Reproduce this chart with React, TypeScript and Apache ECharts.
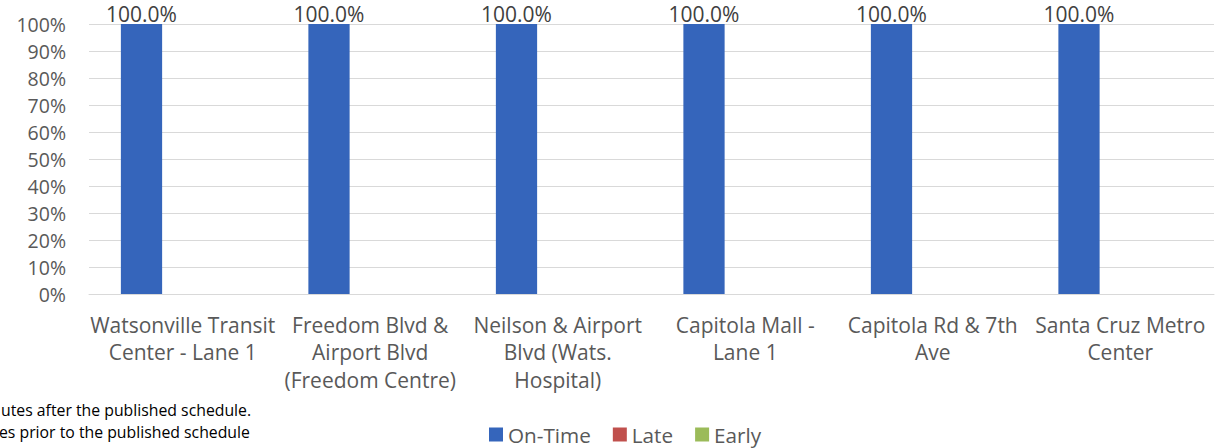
import React, { useEffect, useRef } from "react";
import * as echarts from "echarts";

const categories = [
  "Watsonville Transit\nCenter - Lane 1",
  "Freedom Blvd &\nAirport Blvd\n(Freedom Centre)",
  "Neilson & Airport\nBlvd (Wats.\nHospital)",
  "Capitola Mall -\nLane 1",
  "Capitola Rd & 7th\nAve",
  "Santa Cruz Metro\nCenter",
];
const onTime = [1, 1, 1, 1, 1, 1];
const late = [0, 0, 0, 0, 0, 0];
const early = [0, 0, 0, 0, 0, 0];
const footnotes = ["utes after the published schedule.", "es prior to the published schedule"];

const FONT = "'Open Sans', sans-serif";

export default function App() {
  const ref = useRef<HTMLDivElement>(null);
  useEffect(() => {
    if (!ref.current) return;
    const chart = echarts.init(ref.current, null, { renderer: "svg" });
    chart.setOption({
      animation: false,
      textStyle: { fontFamily: FONT },
      grid: { left: 89, right: 6, top: 24, bottom: 154, containLabel: false },
      legend: {
        top: 424,
        left: 489,
        itemWidth: 14,
        itemHeight: 14,
        itemGap: 22,
        padding: 0,
        icon: "rect",
        textStyle: { color: "#595959", fontSize: 20.7, fontFamily: FONT },
        data: ["On-Time", "Late", "Early"],
      },
      xAxis: {
        type: "category",
        data: categories,
        axisTick: { show: false },
        axisLine: { lineStyle: { color: "#D9D9D9" } },
        axisLabel: {
          color: "#595959",
          fontSize: 21,
          lineHeight: 27.5,
          interval: 0,
          margin: 17,
          fontFamily: FONT,
        },
      },
      yAxis: {
        type: "value",
        min: 0,
        max: 1,
        interval: 0.1,
        axisLabel: {
          color: "#595959",
          fontSize: 19.5,
          margin: 23,
          fontFamily: FONT,
          formatter: (v: number) => Math.round(v * 100) + "%",
        },
        splitLine: { lineStyle: { color: "#D9D9D9" } },
        axisLine: { show: false },
        axisTick: { show: false },
      },
      series: [
        {
          name: "On-Time",
          type: "bar",
          data: onTime,
          itemStyle: { color: "#3565BB" },
          barGap: "0%",
          barCategoryGap: "34%",
          label: {
            show: true,
            position: "top",
            distance: 0,
            color: "#404040",
            fontSize: 21,
            fontFamily: FONT,
            formatter: (p: any) => (p.value * 100).toFixed(1) + "%",
          },
        },
        { name: "Late", type: "bar", data: late, itemStyle: { color: "#C0504D" } },
        { name: "Early", type: "bar", data: early, itemStyle: { color: "#9BBB59" } },
      ],
      graphic: [
        {
          type: "text",
          left: 1,
          top: 402,
          style: { text: footnotes[0], fill: "#000000", fontSize: 15.8, fontFamily: FONT },
        },
        {
          type: "text",
          left: -1,
          top: 424,
          style: { text: footnotes[1], fill: "#000000", fontSize: 15.8, fontFamily: FONT },
        },
      ],
    });
    return () => chart.dispose();
  }, []);
  return <div ref={ref} style={{ width: 1220, height: 448, position: "absolute", left: 0, top: 0 }} />;
}
